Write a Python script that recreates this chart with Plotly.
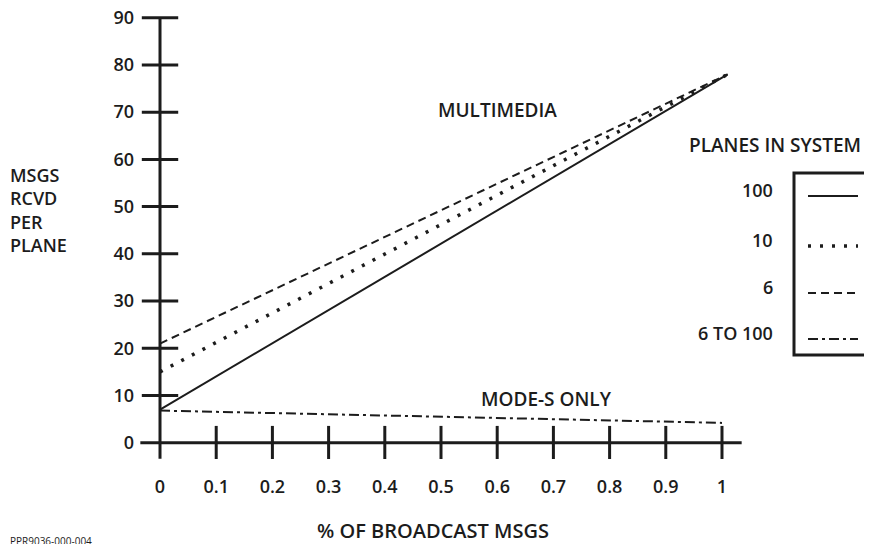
import plotly.graph_objects as go

# ---- data ----
x_vals = [0, 1.01]
planes_100 = [7, 78]
planes_10 = [15, 78]
planes_6 = [21, 78]
mode_s_x = [0, 1.0]
mode_s_only = [6.8, 4.2]

x_ticks = [0.1, 0.2, 0.3, 0.4, 0.5, 0.6, 0.7, 0.8, 0.9, 1]
x_tick_text = ["0.1", "0.2", "0.3", "0.4", "0.5", "0.6", "0.7", "0.8", "0.9", "1"]
y_ticks = [10, 20, 30, 40, 50, 60, 70, 80, 90]
y_tick_labels = [0, 10, 20, 30, 40, 50, 60, 70, 80, 90]

legend_labels = ["100", "10", "6", "6 TO 100"]
legend_dashes = ["solid", "3px,9px", "8px,5px", "10px,4px,3px,4px"]
legend_widths = [2, 3.5, 2, 2]

INK = "#1c1c1c"
FONT = "Open Sans"
FS = 19
FW = 600

OFF = 8  # page body margin
W, H = 872 - OFF, 544 - OFF
# plot area in page pixels: x 140..742, y 13..459
ML, MR, MT, MB = 140 - OFF, 872 - 742, 13 - OFF, 544 - 459
PW, PH = W - ML - MR, H - MT - MB


def px(xp):
    return (xp - OFF - ML) / PW


def py(yp):
    return 1 - (yp - OFF - MT) / PH


fig = go.Figure()

# axes lines
fig.add_trace(go.Scatter(x=[0, 0], y=[-3.4, 90], mode="lines",
                         line=dict(color=INK, width=3), hoverinfo="skip", showlegend=False))
fig.add_trace(go.Scatter(x=[-0.035, 1.035], y=[0, 0], mode="lines",
                         line=dict(color=INK, width=3), hoverinfo="skip", showlegend=False))
# tick marks crossing axes
fig.add_trace(go.Scatter(x=[0] * len(y_ticks), y=y_ticks, mode="markers",
                         marker=dict(symbol="line-ew", size=26, line=dict(color=INK, width=3)),
                         hoverinfo="skip", showlegend=False))
fig.add_trace(go.Scatter(x=x_ticks, y=[0] * len(x_ticks), mode="markers",
                         marker=dict(symbol="line-ns", size=24, line=dict(color=INK, width=3)),
                         hoverinfo="skip", showlegend=False))

# data lines
fig.add_trace(go.Scatter(x=x_vals, y=planes_6, mode="lines", name="6",
                         line=dict(color=INK, width=2, dash=legend_dashes[2]), showlegend=False))
fig.add_trace(go.Scatter(x=x_vals, y=planes_10, mode="lines", name="10",
                         line=dict(color=INK, width=3.5, dash=legend_dashes[1]), showlegend=False))
fig.add_trace(go.Scatter(x=x_vals, y=planes_100, mode="lines", name="100",
                         line=dict(color=INK, width=2, dash="solid"), showlegend=False))
fig.add_trace(go.Scatter(x=mode_s_x, y=mode_s_only, mode="lines", name="6 TO 100",
                         line=dict(color=INK, width=2, dash=legend_dashes[3]), showlegend=False))

fig.update_xaxes(range=[-0.0356, 1.0356], showgrid=False, zeroline=False, showline=False,
                 automargin=False, ticklabeloverflow="allow",
                 tickvals=[0] + x_ticks, ticktext=["0"] + x_tick_text, ticks="",
                 ticklabelstandoff=15, tickfont=dict(family=FONT, size=FS - 1, color=INK, weight=FW))
fig.update_yaxes(range=[-3.45, 91], showgrid=False, zeroline=False, showline=False,
                 automargin=False, ticklabeloverflow="allow",
                 tickvals=y_tick_labels, ticks="", ticklabelstandoff=5,
                 tickfont=dict(family=FONT, size=FS - 1, color=INK, weight=FW))

annotations = []


def ann(text, xp, yp, xanchor="center", size=FS, weight=FW):
    annotations.append(dict(text=text, x=px(xp), y=py(yp), xref="paper", yref="paper",
                            xanchor=xanchor, yanchor="middle", showarrow=False,
                            font=dict(family=FONT, size=size, color=INK, weight=weight)))


for i, t in enumerate(["MSGS", "RCVD", "PER", "PLANE"]):
    ann(t, 8, 175 + i * 23.3, xanchor="left", size=FS - 1)
ann("MULTIMEDIA", 497, 110)
ann("MODE-S ONLY", 546, 399)
ann("% OF BROADCAST MSGS", 433, 530, size=FS + 1)
ann("PLANES IN SYSTEM", 687, 145, xanchor="left")
ann("PPR9036-000-004", 8, 541, xanchor="left", size=10, weight=400)

legend_y = [190, 240, 287, 333]
shapes = [dict(type="rect", xref="paper", yref="paper", x0=px(794), x1=px(869),
               y0=py(355), y1=py(173), line=dict(color=INK, width=3))]
for lab, yp, d, w in zip(legend_labels, legend_y, legend_dashes, legend_widths):
    ann(lab, 775, yp, xanchor="right", size=FS - 1)
    shapes.append(dict(type="line", xref="paper", yref="paper", x0=px(808), x1=px(858),
                       y0=py(yp + 6), y1=py(yp + 6), line=dict(color=INK, width=w, dash=d)))

fig.update_layout(width=W, height=H, margin=dict(l=ML, r=MR, t=MT, b=MB, autoexpand=False),
                  paper_bgcolor="white", plot_bgcolor="white",
                  annotations=annotations, shapes=shapes, showlegend=False)

fig.write_html("out.html")
